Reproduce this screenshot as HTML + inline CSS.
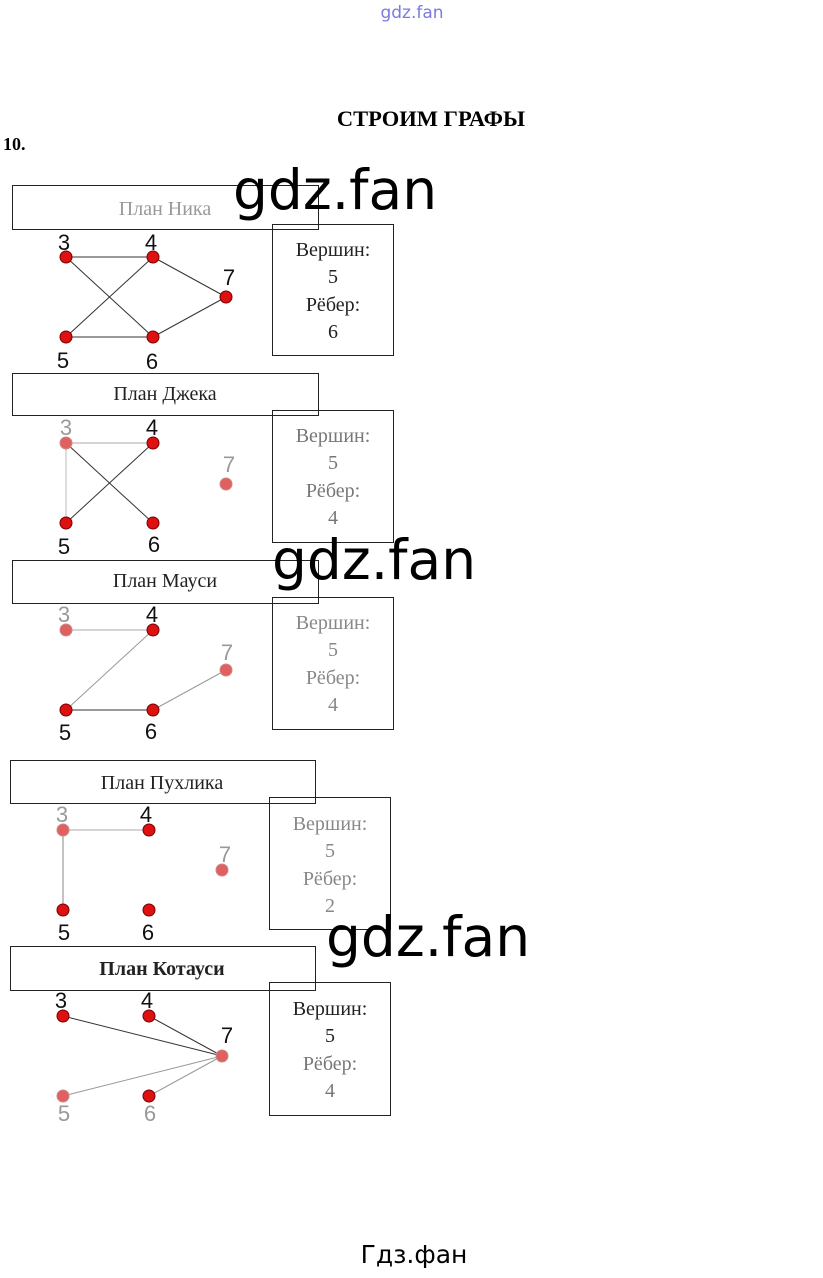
<!DOCTYPE html>
<html><head><meta charset="utf-8"><style>
body{margin:0;width:823px;height:1273px;background:#fff;overflow:hidden}
</style></head><body>
<svg width="823" height="1273" viewBox="0 0 823 1273" xmlns="http://www.w3.org/2000/svg">
<text x="412" y="18" font-size="17" fill="#7a7ae0" text-anchor="middle" font-family="DejaVu Sans, sans-serif">gdz.fan</text>
<text x="431" y="126" font-size="22.5" font-weight="bold" text-anchor="middle" font-family="Liberation Serif, serif">СТРОИМ ГРАФЫ</text>
<text x="3" y="150" font-size="18" font-weight="bold" font-family="Liberation Serif, serif">10.</text>

<g stroke="#222" stroke-width="1" fill="none">
<rect x="12.5" y="185.5" width="306" height="44"/>
<rect x="272.5" y="224.5" width="121" height="131"/>
<rect x="12.5" y="373.5" width="306" height="42"/>
<rect x="272.5" y="410.5" width="121" height="132"/>
<rect x="12.5" y="560.5" width="306" height="43"/>
<rect x="272.5" y="597.5" width="121" height="132"/>
<rect x="10.5" y="760.5" width="305" height="43"/>
<rect x="269.5" y="797.5" width="121" height="132"/>
<rect x="10.5" y="946.5" width="305" height="44"/>
<rect x="269.5" y="982.5" width="121" height="133"/>
</g>
<g font-size="20" text-anchor="middle" fill="#222" font-family="Liberation Serif, serif">
<text x="165" y="215" fill="#999">План Ника</text>
<text x="165" y="400">План Джека</text>
<text x="165" y="587">План Мауси</text>
<text x="162" y="789">План Пухлика</text>
<text x="162" y="975" font-weight="bold">План Котауси</text>
</g>
<g font-size="20" text-anchor="middle" fill="#222" font-family="Liberation Serif, serif">
<text x="333" y="256">Вершин:</text><text x="333" y="283">5</text><text x="333" y="311">Рёбер:</text><text x="333" y="338">6</text>
<g fill="#777"><text x="333" y="442">Вершин:</text><text x="333" y="469">5</text><text x="333" y="497">Рёбер:</text><text x="333" y="524">4</text></g>
<g fill="#888"><text x="333" y="629">Вершин:</text><text x="333" y="656">5</text><text x="333" y="684">Рёбер:</text><text x="333" y="711">4</text></g>
<g fill="#888"><text x="330" y="830">Вершин:</text><text x="330" y="857">5</text><text x="330" y="885">Рёбер:</text><text x="330" y="912">2</text></g>
<text x="330" y="1015">Вершин:</text><text x="330" y="1042">5</text><text x="330" y="1070" fill="#777">Рёбер:</text><text x="330" y="1097" fill="#777">4</text>
</g>

<g stroke="#333" stroke-width="1">
<line x1="66" y1="257" x2="153" y2="257"/><line x1="66" y1="337" x2="153" y2="337"/>
<line x1="66" y1="257" x2="153" y2="337"/><line x1="153" y1="257" x2="66" y2="337"/>
<line x1="153" y1="257" x2="226" y2="297"/><line x1="153" y1="337" x2="226" y2="297"/>
<line x1="66" y1="443" x2="153" y2="443" stroke="#aaa"/><line x1="66" y1="443" x2="153" y2="523"/>
<line x1="153" y1="443" x2="66" y2="523"/><line x1="66" y1="443" x2="66" y2="523" stroke="#bbb"/>
<line x1="66" y1="630" x2="153" y2="630" stroke="#aaa"/><line x1="153" y1="630" x2="66" y2="710" stroke="#999"/>
<line x1="66" y1="710" x2="153" y2="710"/><line x1="153" y1="710" x2="226" y2="670" stroke="#999"/>
<line x1="63" y1="830" x2="149" y2="830" stroke="#aaa"/><line x1="63" y1="830" x2="63" y2="910" stroke="#888"/>
<line x1="63" y1="1016" x2="222" y2="1056"/><line x1="149" y1="1016" x2="222" y2="1056"/>
<line x1="63" y1="1096" x2="222" y2="1056" stroke="#999"/><line x1="149" y1="1096" x2="222" y2="1056" stroke="#999"/>
</g>
<g fill="#dd1111" stroke="#700" stroke-width="1">
<circle cx="66" cy="257" r="6"/><circle cx="153" cy="257" r="6"/><circle cx="226" cy="297" r="6"/><circle cx="66" cy="337" r="6"/><circle cx="153" cy="337" r="6"/>
<circle cx="66" cy="443" r="6" fill="#e06060" stroke="#c88"/><circle cx="153" cy="443" r="6"/><circle cx="226" cy="484" r="6" fill="#e06060" stroke="#c88"/><circle cx="66" cy="523" r="6"/><circle cx="153" cy="523" r="6"/>
<circle cx="66" cy="630" r="6" fill="#e06060" stroke="#c88"/><circle cx="153" cy="630" r="6"/><circle cx="226" cy="670" r="6" fill="#e06060" stroke="#c88"/><circle cx="66" cy="710" r="6"/><circle cx="153" cy="710" r="6"/>
<circle cx="63" cy="830" r="6" fill="#e06060" stroke="#c88"/><circle cx="149" cy="830" r="6"/><circle cx="222" cy="870" r="6" fill="#e06060" stroke="#c88"/><circle cx="63" cy="910" r="6"/><circle cx="149" cy="910" r="6"/>
<circle cx="63" cy="1016" r="6"/><circle cx="149" cy="1016" r="6"/><circle cx="222" cy="1056" r="6" fill="#e06060" stroke="#c88"/><circle cx="63" cy="1096" r="6" fill="#e06060" stroke="#c88"/><circle cx="149" cy="1096" r="6"/>
</g>
<g font-size="22" text-anchor="middle" fill="#111" font-family="Liberation Sans, sans-serif">
<text x="64" y="250">3</text><text x="151" y="250">4</text><text x="229" y="285">7</text><text x="63" y="368">5</text><text x="152" y="369">6</text>
<text x="66" y="435" fill="#999">3</text><text x="152" y="435">4</text><text x="229" y="472" fill="#999">7</text><text x="64" y="554">5</text><text x="154" y="552">6</text>
<text x="64" y="622" fill="#999">3</text><text x="152" y="622">4</text><text x="227" y="660" fill="#999">7</text><text x="65" y="740">5</text><text x="151" y="739">6</text>
<text x="62" y="822" fill="#999">3</text><text x="146" y="822">4</text><text x="225" y="862" fill="#999">7</text><text x="64" y="940">5</text><text x="148" y="940">6</text>
<text x="61" y="1008">3</text><text x="147" y="1008">4</text><text x="227" y="1043">7</text><text x="64" y="1121" fill="#999">5</text><text x="150" y="1121" fill="#999">6</text>
</g>
<g font-size="55" fill="#000" font-family="DejaVu Sans, sans-serif">
<text x="233" y="209">gdz.fan</text>
<text x="272" y="579">gdz.fan</text>
<text x="326" y="956">gdz.fan</text>
</g>
<text x="414" y="1263" font-size="25" text-anchor="middle" font-family="DejaVu Sans, sans-serif">Гдз.фан</text>
</svg>
</body></html>
